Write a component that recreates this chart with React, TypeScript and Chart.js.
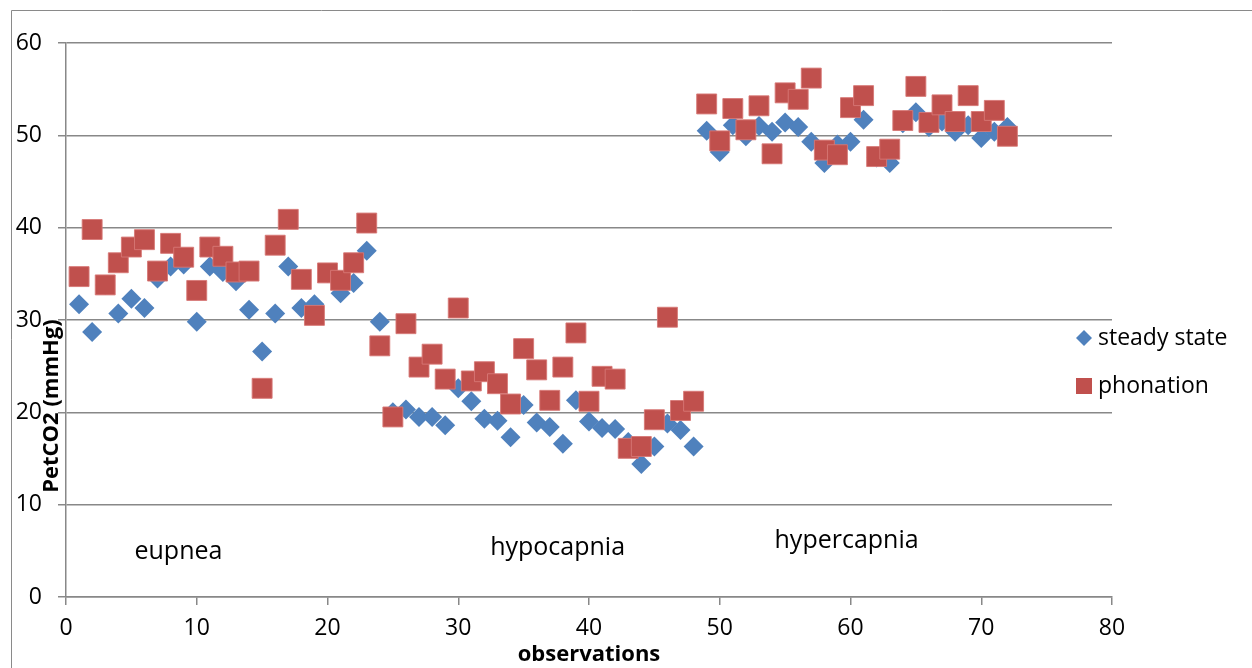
import React, { useEffect, useRef } from "react";
import { Chart, registerables } from "chart.js";

Chart.register(...registerables);

const observations: number[] = [
  1, 2, 3, 4, 5, 6, 7, 8, 9, 10, 11, 12, 13, 14, 15, 16, 17, 18, 19, 20, 21, 22, 23, 24,
  25, 26, 27, 28, 29, 30, 31, 32, 33, 34, 35, 36, 37, 38, 39, 40, 41, 42, 43, 44, 45, 46, 47, 48,
  49, 50, 51, 52, 53, 54, 55, 56, 57, 58, 59, 60, 61, 62, 63, 64, 65, 66, 67, 68, 69, 70, 71, 72,
];

const steadyState: number[] = [
  31.7, 28.7, 33.8, 30.7, 32.3, 31.3, 34.5, 35.8, 36.0, 29.8, 35.8, 35.2, 34.2, 31.1, 26.6, 30.7, 35.8, 31.3, 31.7, 35.1, 32.9, 34.0, 37.5, 29.8,
  20.0, 20.3, 19.5, 19.5, 18.6, 22.6, 21.2, 19.3, 19.1, 17.3, 20.8, 18.9, 18.4, 16.6, 21.3, 19.0, 18.3, 18.2, 16.8, 14.4, 16.3, 18.8, 18.1, 16.3,
  50.5, 48.2, 51.1, 49.9, 51.0, 50.4, 51.4, 50.9, 49.3, 47.0, 49.0, 49.3, 51.7, 47.6, 47.0, 51.3, 52.5, 50.9, 51.5, 50.4, 51.1, 49.7, 50.4, 50.9,
];

const phonation: number[] = [
  34.7, 39.8, 33.8, 36.2, 37.9, 38.7, 35.3, 38.3, 36.8, 33.2, 37.9, 36.9, 35.2, 35.3, 22.6, 38.1, 40.9, 34.4, 30.5, 35.1, 34.3, 36.2, 40.5, 27.2,
  19.5, 29.6, 24.9, 26.3, 23.6, 31.3, 23.4, 24.4, 23.1, 20.9, 26.9, 24.6, 21.3, 24.9, 28.6, 21.2, 23.9, 23.6, 16.1, 16.3, 19.2, 30.3, 20.2, 21.2,
  53.4, 49.4, 52.9, 50.6, 53.2, 48.0, 54.6, 53.9, 56.2, 48.4, 47.9, 53.0, 54.3, 47.7, 48.5, 51.6, 55.3, 51.4, 53.3, 51.5, 54.3, 51.5, 52.7, 49.9,
];

const seriesNames: string[] = ["steady state", "phonation"];
const phaseLabels: string[] = ["eupnea", "hypocapnia", "hypercapnia"];
const phaseLabelX: number[] = [8.6, 37.6, 59.7];
const phaseLabelY: number[] = [4.9, 5.3, 6.1];
const xTitle = "observations";
const yTitle = "PetCO2 (mmHg)";

const BLUE = "#4F81BD";
const RED = "#C0504D";
const GRID = "#888888";
const FONT = "'Open Sans', 'Noto Sans', sans-serif";

const overlayPlugin = {
  id: "overlay",
  afterDraw(chart: any) {
    const ctx = chart.ctx as CanvasRenderingContext2D;
    const xs = chart.scales.x;
    const ys = chart.scales.y;
    ctx.save();
    // outer frame (left + top)
    ctx.strokeStyle = "#8a8a8a";
    ctx.lineWidth = 1;
    ctx.beginPath();
    ctx.moveTo(11.5, 668);
    ctx.lineTo(11.5, 10.5);
    ctx.lineTo(1252, 10.5);
    ctx.stroke();

    // phase annotations
    ctx.fillStyle = "#000";
    ctx.font = `25px ${FONT}`;
    ctx.textAlign = "center";
    ctx.textBaseline = "middle";
    phaseLabels.forEach((t, i) => {
      ctx.fillText(t, xs.getPixelForValue(phaseLabelX[i]), ys.getPixelForValue(phaseLabelY[i]));
    });

    // axis titles
    ctx.font = `bold 22px ${FONT}`;
    ctx.fillText(xTitle, (chart.chartArea.left + chart.chartArea.right) / 2, 655);
    ctx.save();
    ctx.translate(52, 406);
    ctx.rotate(-Math.PI / 2);
    ctx.fillText(yTitle, 0, 0);
    ctx.restore();

    // legend
    const items = [
      { name: seriesNames[0], color: BLUE, shape: "diamond", y: 338 },
      { name: seriesNames[1], color: RED, shape: "square", y: 386 },
    ];
    ctx.font = `23px ${FONT}`;
    ctx.textAlign = "left";
    items.forEach((it) => {
      ctx.fillStyle = it.color;
      ctx.beginPath();
      if (it.shape === "diamond") {
        ctx.moveTo(1084, it.y - 8);
        ctx.lineTo(1092, it.y);
        ctx.lineTo(1084, it.y + 8);
        ctx.lineTo(1076, it.y);
      } else {
        ctx.rect(1076, it.y - 8, 16, 16);
      }
      ctx.closePath();
      ctx.fill();
      ctx.fillStyle = "#000";
      ctx.fillText(it.name, 1098, it.y);
    });
    ctx.restore();
  },
};

export default function App() {
  const ref = useRef<HTMLCanvasElement | null>(null);
  useEffect(() => {
    if (!ref.current) return;
    const chart = new Chart(ref.current, {
      type: "scatter",
      data: {
        datasets: [
          {
            label: seriesNames[0],
            data: observations.map((x, i) => ({ x, y: steadyState[i] })),
            backgroundColor: BLUE,
            borderColor: BLUE,
            borderWidth: 0,
            pointStyle: "rectRot",
            pointRadius: 10,
            order: 2,
          },
          {
            label: seriesNames[1],
            data: observations.map((x, i) => ({ x, y: phonation[i] })),
            backgroundColor: RED,
            borderColor: "rgba(215,120,118,0.9)",
            borderWidth: 1,
            pointStyle: "rect",
            pointRadius: 14.1,
            order: 1,
          },
        ],
      },
      options: {
        animation: false,
        responsive: false,
        events: [],
        layout: { padding: { left: 0, top: 43, right: 140, bottom: 0 } },
        plugins: {
          legend: { display: false },
          tooltip: { enabled: false },
        },
        scales: {
          x: {
            type: "linear",
            min: 0,
            max: 80,
            ticks: {
              stepSize: 10,
              color: "#000",
              font: { family: FONT, size: 23 },
              padding: 10,
              maxRotation: 0,
            },
            grid: {
              drawOnChartArea: false,
              drawTicks: true,
              tickLength: 8,
              color: GRID,
              lineWidth: 1.5,
            },
            border: { display: true, color: GRID, width: 1.5 },
            afterFit(scale: any) {
              scale.height = 71;
            },
          },
          y: {
            min: 0,
            max: 60,
            ticks: {
              stepSize: 10,
              color: "#000",
              font: { family: FONT, size: 23 },
              padding: 16,
            },
            grid: {
              drawTicks: true,
              tickLength: 8,
              color: GRID,
              lineWidth: 1.5,
            },
            border: { display: true, color: GRID, width: 1.5 },
            afterFit(scale: any) {
              scale.width = 66;
            },
          },
        },
      },
      plugins: [overlayPlugin],
    });
    return () => chart.destroy();
  }, []);
  return (
    <div style={{ position: "absolute", left: 0, top: 0, width: 1252, height: 668, background: "#fff" }}>
      <canvas ref={ref} width={1252} height={668} style={{ display: "block" }} />
    </div>
  );
}
